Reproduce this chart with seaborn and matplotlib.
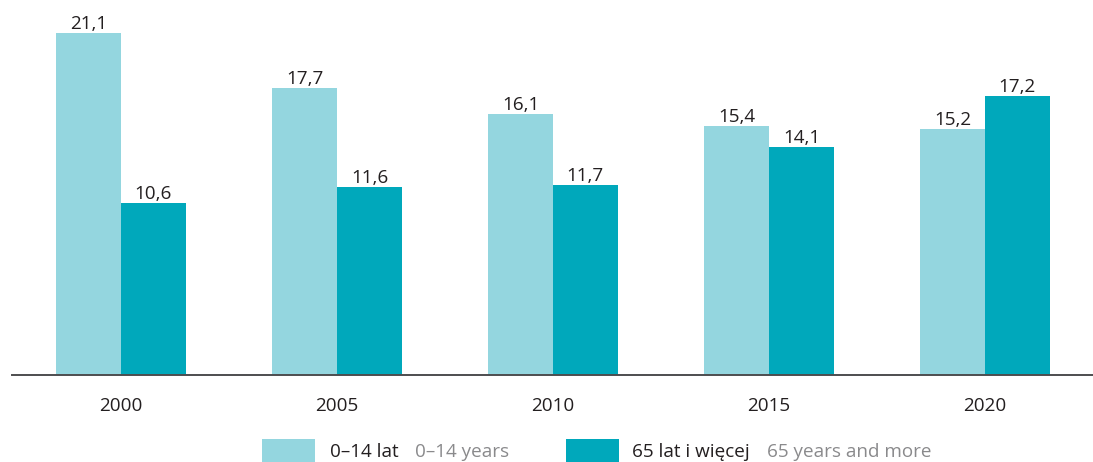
import matplotlib
matplotlib.use("Agg")
import matplotlib.pyplot as plt
from matplotlib.patches import Rectangle
import pandas as pd
import seaborn as sns

years = ["2000", "2005", "2010", "2015", "2020"]
young = [21.1, 17.7, 16.1, 15.4, 15.2]
old = [10.6, 11.6, 11.7, 14.1, 17.2]
series_pl = ["0–14 lat", "65 lat i więcej"]
series_en = ["0–14 years", "65 years and more"]
colors = ["#94D6DF", "#00A8BB"]

df = pd.DataFrame({
    "year": years * 2,
    "value": young + old,
    "group": [series_pl[0]] * len(years) + [series_pl[1]] * len(years),
})

sns.set_style("white")
plt.rcParams["font.family"] = ["Open Sans", "DejaVu Sans"]
fs = 13.6

W, H = 1093, 462
fig = plt.figure(figsize=(W / 100, H / 100), dpi=100)
ax = fig.add_axes([12 / W, (H - 375) / H, (W - 12) / W, (375 - 18.6) / H])

sns.barplot(data=df, x="year", y="value", hue="group", palette=colors,
            width=0.6, saturation=1, linewidth=0, ax=ax, legend=False)

for cont in ax.containers:
    ax.bar_label(cont, labels=[f"{b.get_height():.1f}".replace(".", ",") for b in cont],
                 padding=0, fontsize=fs, color="#231f20")

ax.set_xlim(-0.505, 4.5)
ax.set_ylim(0, 22)
ax.set_xlabel("")
ax.set_ylabel("")
ax.set_yticks([])
ax.tick_params(axis="x", length=0, pad=16, labelsize=fs, labelcolor="#231f20")
for s in ["top", "right", "left"]:
    ax.spines[s].set_visible(False)
ax.spines["bottom"].set_color("#4d4d4f")
ax.spines["bottom"].set_linewidth(1.4)

# legend, drawn by hand to mix black and grey text
leg = [(262, 330, 415), (566, 632, 767)]
for (px, tx, gx), lab, en, c in zip(leg, series_pl, series_en, colors):
    fig.patches.append(Rectangle((px / W, 0), 53 / W, 23 / H, transform=fig.transFigure,
                                 facecolor=c, edgecolor="none"))
    fig.text(tx / W, (H - 452) / H, lab, fontsize=fs, color="#231f20", va="center")
    fig.text(gx / W, (H - 452) / H, en, fontsize=fs, color="#8a8a8c", va="center")

fig.savefig("out.png", dpi=100)
